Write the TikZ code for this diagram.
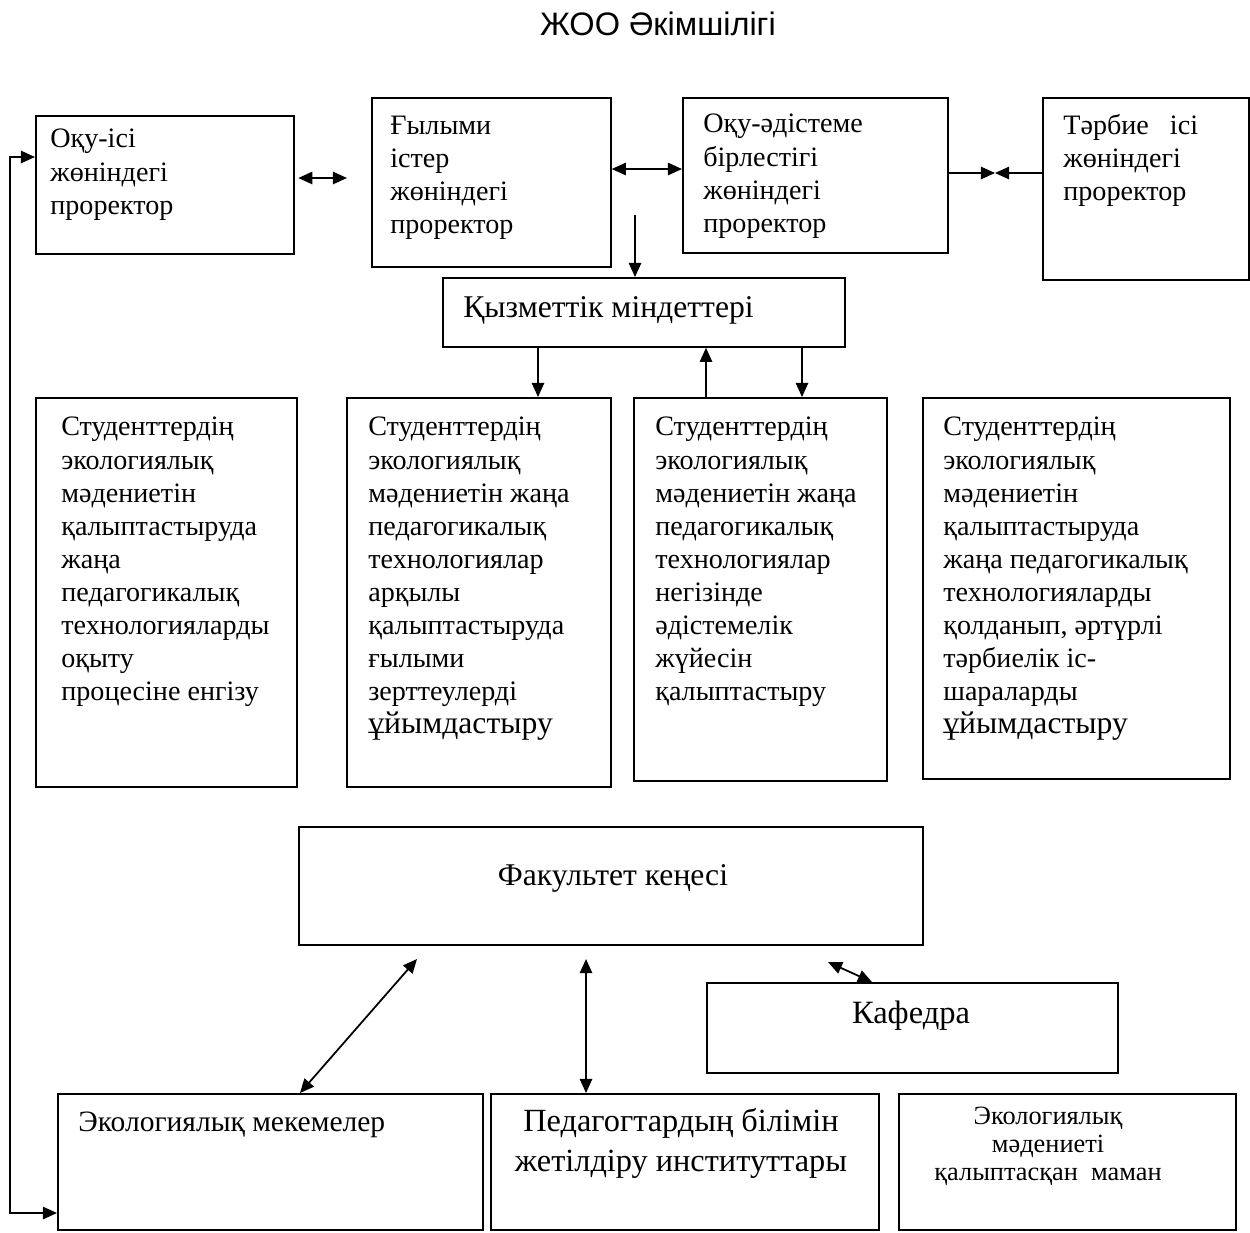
\documentclass[tikz,border=0pt]{standalone}
\usepackage{fontspec}
\setmainfont{Liberation Serif}
\newfontfamily\headfont{Liberation Sans}
\usetikzlibrary{positioning, calc, arrows.meta}

\begin{document}
\begin{tikzpicture}[x=0.02cm, y=-0.02cm,
	box/.style 2 args={draw, line width=1pt, anchor=north west, inner sep=0pt, minimum width=#1*0.02cm, minimum height=#2*0.02cm},
	txt/.style={anchor=north west, inner sep=0pt, align=left, font=\fontsize{16}{18.8}\selectfont},
	edge/.style={line width=1pt, -{Triangle[length=8pt, width=7pt]}},
	both/.style={line width=1pt, {Triangle[length=8pt, width=7pt]}-{Triangle[length=8pt, width=7pt]}}]

	\useasboundingbox (0,0) rectangle (1250,1232);

	\node[font=\headfont\fontsize{18.5}{22}\selectfont] (title) at (658,24) {ЖОО Әкімшілігі};

	\foreach \name/\x/\y/\w/\h in {prorA/35/115/258/138, prorB/371/97/239/169, prorC/682/97/265/155, prorD/1042/97/206/182,
		duties/442/277/402/69, stA/35/397/261/389, stB/346/397/264/389, stC/633/397/253/383, stD/922/397/307/381,
		council/298/826/624/118, chair/706/982/411/90, ecoorg/57/1093/425/136, inst/490/1093/388/136, expert/898/1093/337/136}
	{
		\node[box={\w}{\h}] (\name) at (\x,\y) {};
	}

	\node[txt] (tA) at (50,129) {Оқу-ісі\\жөніндегі\\проректор};
	\node[txt] (tB) at (390,116) {Ғылыми\\істер\\жөніндегі\\проректор};
	\node[txt] (tC) at (703,114) {Оқу-әдістеме\\бірлестігі\\жөніндегі\\проректор};
	\node[txt] (tD) at (1063,114) {Тәрбие\ \ \ ісі\\жөніндегі\\проректор};
	\node[txt, font=\fontsize{18}{21}\selectfont] (tK) at (463,296) {Қызметтік міндеттері};

	\node[txt] (tStA) at (61,417) {Студенттердің\\экологиялық\\мәдениетін\\қалыптастыруда\\жаңа\\педагогикалық\\технологияларды\\оқыту\\процесіне енгізу};
	\node[txt] (tStB) at (368,417) {Студенттердің\\экологиялық\\мәдениетін жаңа\\педагогикалық\\технологиялар\\арқылы\\қалыптастыруда\\ғылыми\\зерттеулерді\\{\fontsize{18}{18.8}\selectfont ұйымдастыру}};
	\node[txt] (tStC) at (655,417) {Студенттердің\\экологиялық\\мәдениетін жаңа\\педагогикалық\\технологиялар\\негізінде\\әдістемелік\\жүйесін\\қалыптастыру};
	\node[txt] (tStD) at (943,417) {Студенттердің\\экологиялық\\мәдениетін\\қалыптастыруда\\жаңа педагогикалық\\технологияларды\\қолданып, әртүрлі\\тәрбиелік іс-\\шараларды\\{\fontsize{18}{18.8}\selectfont ұйымдастыру}};

	\node[font=\fontsize{18}{21}\selectfont] (tF) at (613,878) {Факультет кеңесі};
	\node[font=\fontsize{18.5}{22}\selectfont] (tKaf) at (911,1016) {Кафедра};
	\node[anchor=west, inner sep=0pt, font=\fontsize{16.8}{19.5}\selectfont] (tEco) at (78,1125) {Экологиялық мекемелер};
	\node[align=center, font=\fontsize{18.4}{22.7}\selectfont] (tInst) at (681,1143) {Педагогтардың білімін\\жетілдіру институттары};
	\node[align=center, font=\fontsize{15}{15.9}\selectfont] (tExp) at (1048,1146) {Экологиялық\\мәдениеті\\қалыптасқан\ \ маман};

	\coordinate (ab) at (347,178);
	\coordinate (meet) at (995,173);
	\coordinate (dtop) at (635,215);
	\coordinate (cf1) at (417,959);
	\coordinate (cf2) at (586,959);
	\coordinate (cf3) at (828,962);

	\draw[both, shorten <=2pt] (prorA.east |- ab) -- (ab);
	\draw[both] (prorB.east |- 0,169) -- (prorC.west |- 0,169);
	\draw[edge] (prorC.east |- meet) -- (meet);
	\draw[edge] (prorD.west |- meet) -- (meet);
	\draw[edge] (dtop) -- (dtop |- duties.north);

	\draw[edge] (538,0 |- duties.south) -- (538,0 |- stB.north);
	\draw[edge] (706,0 |- stC.north) -- (706,0 |- duties.south);
	\draw[edge] (802,0 |- duties.south) -- (802,0 |- stC.north);

	\draw[both] (prorA.west |- 0,157) -- (10,157) -- (10,1213) -- (ecoorg.west |- 0,1213);

	\draw[both] (cf1) -- (300,0 |- ecoorg.north);
	\draw[both] (cf2) -- (cf2 |- inst.north);
	\draw[both] (cf3) -- (872,0 |- chair.north);

\end{tikzpicture}
\end{document}
